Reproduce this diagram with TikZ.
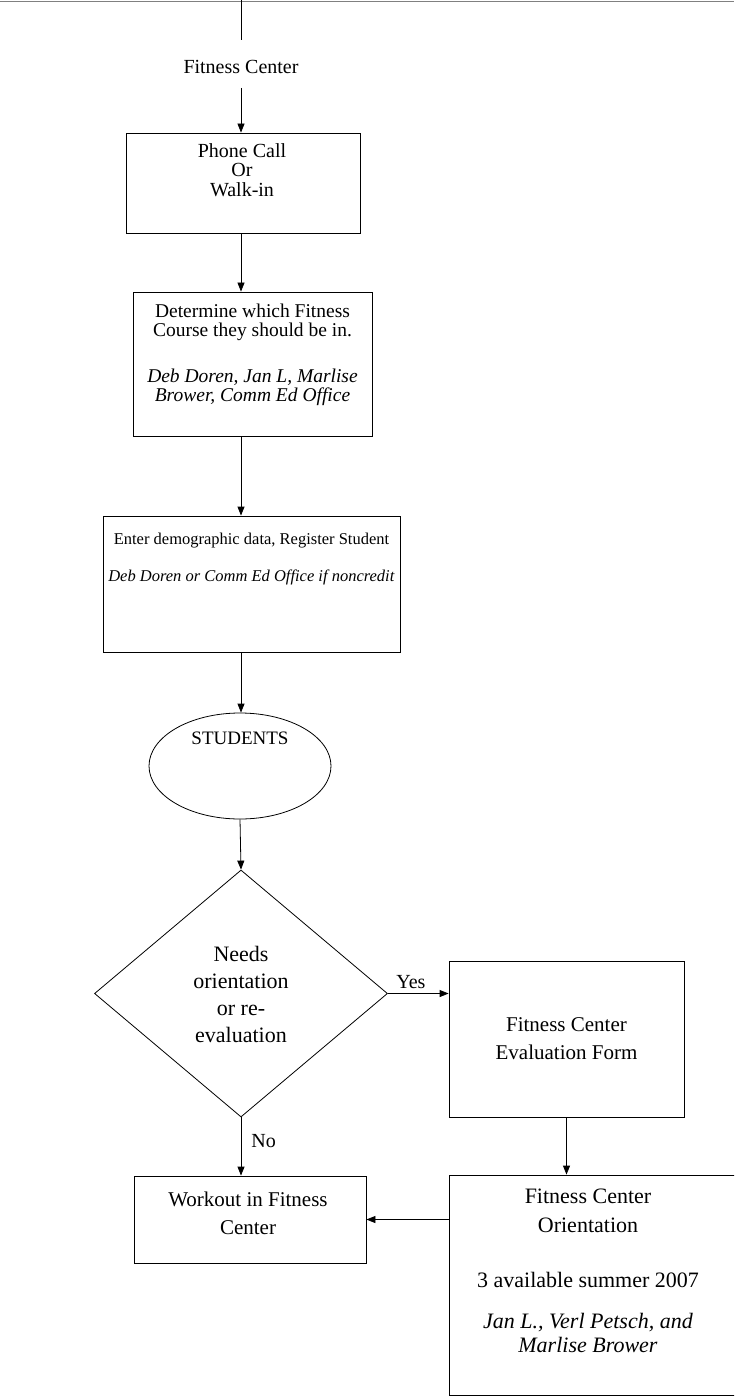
\documentclass[tikz,border=0pt]{standalone}
\usepackage{fontspec}
\setmainfont{Liberation Serif}
\usetikzlibrary{shapes.geometric,arrows.meta}
\begin{document}
\begin{tikzpicture}[x=1pt,y=-1pt,
  box/.style={draw, line width=0.8pt, inner sep=0pt, align=center},
  txt/.style={align=center, inner sep=0pt},
  arr/.style={line width=0.8pt, -{Triangle[length=9pt,width=7pt]}},
  conn/.style={line width=0.8pt},
]
\useasboundingbox (0,0) rectangle (734,1396);
\clip (0,0) rectangle (734,1396);

% rule at the top edge and the incoming line
\coordinate (ruleL) at (0,1.5);
\coordinate (ruleR) at (734,1.5);
\draw[gray, line width=1.8pt] (ruleL) -- (ruleR);
\coordinate (topin) at (241,0);
\coordinate (topout) at (241,40);
\draw[conn] (topin) -- (topout);

% entry label
\node[txt, font=\fontsize{20}{19}\selectfont] (fc) at (241,67) {Fitness Center};
\coordinate (fcout) at (241,88);

% first contact
\node[box, minimum width=234pt, minimum height=100pt] (phone) at (243,183) {};
\node[txt, font=\fontsize{20}{19.5}\selectfont] (phonet) at (242,170) {Phone Call\\Or\\Walk-in};
\draw[arr] (fcout) -- (fcout |- phone.north);

% course selection
\node[box, minimum width=239pt, minimum height=144pt] (course) at (252.5,364) {};
\node[txt, font=\fontsize{19.5}{19.5}\selectfont] (courset) at (252.5,355)
  {Determine which Fitness\\Course they should be in.\\[26pt]
   \textit{Deb Doren, Jan L, Marlise}\\\textit{Brower, Comm Ed Office}};
\draw[arr] (fcout |- phone.south) -- (fcout |- course.north);

% registration
\node[box, minimum width=297pt, minimum height=136pt] (reg) at (251.5,584) {};
\node[txt, font=\fontsize{16.5}{19}\selectfont] (regt) at (251.5,559)
  {Enter demographic data, Register Student\\[18pt]
   \textit{Deb Doren or Comm Ed Office if noncredit}};
\draw[arr] (fcout |- course.south) -- (fcout |- reg.north);

% students
\node[ellipse, draw, line width=0.8pt, minimum width=182pt, minimum height=106pt, inner sep=0pt] (stud) at (240,766) {};
\node[txt, font=\fontsize{19}{19}\selectfont] (studt) at (240,738) {STUDENTS};
\draw[arr] (fcout |- reg.south) -- (fcout |- stud.north);

% decision
\node[diamond, draw, line width=0.8pt, minimum width=293pt, minimum height=247pt, aspect=1.186, inner sep=0pt] (dec) at (241,993.5) {};
\node[txt, font=\fontsize{22}{27}\selectfont] (dect) at (241,994) {Needs\\orientation\\or re-\\evaluation};
\draw[arr] (stud.south) -- (dec.north);

% evaluation form
\node[box, minimum width=235pt, minimum height=156pt, font=\fontsize{21}{28}\selectfont] (eval) at (566.5,1039) {Fitness Center\\Evaluation Form};
\draw[arr] (dec.east) -- node[txt, above=4pt, pos=0.38, font=\fontsize{20}{20}\selectfont] (yes) {Yes} (eval.west |- dec.east);

% orientation
\node[box, minimum width=296pt, minimum height=220pt] (orient) at (597,1285) {};
\node[txt, font=\fontsize{22}{24}\selectfont] (orientt) at (588,1271)
  {Fitness Center\\[5pt]Orientation\\[31pt]3 available summer 2007\\[17pt]
   \textit{Jan L., Verl Petsch, and}\\\textit{Marlise Brower}};
\draw[arr] (eval.south) -- (eval.south |- orient.north);

% workout
\node[box, minimum width=232pt, minimum height=87pt] (work) at (250,1219.5) {};
\node[txt, font=\fontsize{21}{28}\selectfont] (workt) at (248,1213) {Workout in Fitness\\Center};
\draw[arr] (dec.south) -- node[txt, anchor=west, xshift=10pt, pos=0.4, font=\fontsize{20}{20}\selectfont] (no) {No} (dec.south |- work.north);
\draw[arr] (orient.west |- work.east) -- (work.east);
\end{tikzpicture}
\end{document}
